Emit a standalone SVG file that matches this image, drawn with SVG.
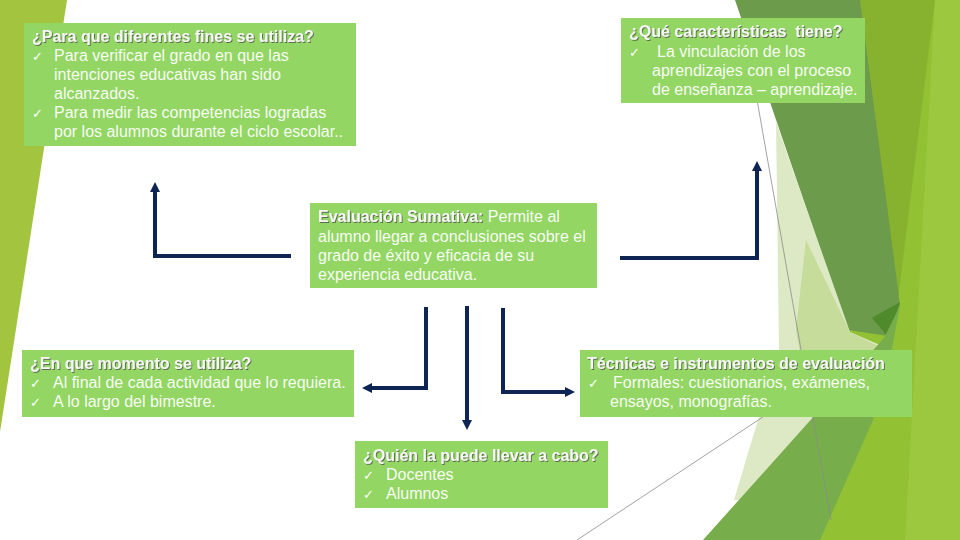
<svg xmlns="http://www.w3.org/2000/svg" width="960" height="540" viewBox="0 0 960 540">
  <defs>
    <style>
      .box { fill: #93d664; }
      .t { font-family: "Liberation Sans", Arial, sans-serif; font-size: 16px; fill: #ffffff; fill-opacity: 0.95; }
      .b { font-weight: bold; fill: #f6f6f6; fill-opacity: 1; filter: url(#sh); }
      .ck { font-family: "DejaVu Sans", sans-serif; font-size: 13px; fill: #ffffff; }
      .con { fill: none; stroke: #0e2452; stroke-width: 4; stroke-linejoin: miter; }
      .thin { stroke: #8c8c8c; stroke-width: 0.8; fill: none; }
    </style>
    <filter id="sh" x="-5%" y="-30%" width="110%" height="160%">
      <feDropShadow dx="1" dy="1" stdDeviation="0.4" flood-color="#4a4a4a" flood-opacity="0.75"/>
    </filter>
    <marker id="ah" viewBox="0 0 10 10" refX="2" refY="5" markerWidth="10" markerHeight="10" markerUnits="userSpaceOnUse" orient="auto">
      <path d="M0,0 L10,5 L0,10 z" fill="#0e2452"/>
    </marker>
  </defs>

  <rect width="960" height="540" fill="#ffffff"/>

  <g id="background">
    <polygon points="0,0 67,0 0,432" fill="#a2c43f"/>
    <polygon points="840,0 960,0 960,540 780,540" fill="#92c133"/>
    <polygon points="935,0 960,0 960,540 905,540" fill="#9cc840"/>
    <polygon points="858,0 935,0 898,300" fill="#86b22f"/>
    <polygon points="735,0 860,0 900,305 888,336 848,330" fill="#6b9b4b"/>
    <polygon points="872,318 900,302 888,337" fill="#4f8a2b"/>
    <polygon points="776,122 850,332 880,345 739,500 734,500 779,350" fill="#dde9c4"/>
    <polygon points="806,240 850,332 878,346 812,418 796,330" fill="#c6dc9b"/>
    <polygon points="703,540 884,338 900,306 886,380 873,420 820,540" fill="#77ad4b"/>
    <line class="thin" x1="750" y1="60" x2="831" y2="520"/>
    <line class="thin" x1="577" y1="540" x2="778" y2="407"/>
  </g>

  <g id="connectors">
    <path class="con" d="M291,256 L155,256 L155,190" marker-end="url(#ah)"/>
    <path class="con" d="M620,258 L757,258 L757,169" marker-end="url(#ah)"/>
    <path class="con" d="M426,307 L426,388 L370,388" marker-end="url(#ah)"/>
    <path class="con" d="M467,306 L467,422" marker-end="url(#ah)"/>
    <path class="con" d="M503,308 L503,392 L567,392" marker-end="url(#ah)"/>
  </g>

  <g id="node-fines">
    <rect class="box" x="24" y="23" width="332" height="123"/>
    <text class="t b" x="32" y="41.5">¿Para que diferentes fines se utiliza?</text>
    <text class="ck" x="32" y="60.5">✓</text>
    <text class="t" x="54" y="60.5">Para verificar el grado en que las</text>
    <text class="t" x="54" y="79.5">intenciones educativas han sido</text>
    <text class="t" x="54" y="98.5">alcanzados.</text>
    <text class="ck" x="32" y="117.5">✓</text>
    <text class="t" x="54" y="117.5">Para medir las competencias logradas</text>
    <text class="t" x="54" y="136.5">por los alumnos durante el ciclo escolar..</text>
  </g>

  <g id="node-caracteristicas">
    <rect class="box" x="621" y="18" width="244" height="85"/>
    <text class="t b" x="629" y="37" xml:space="preserve">¿Qué características  tiene?</text>
    <text class="ck" x="629" y="57">✓</text>
    <text class="t" x="657" y="57">La vinculación de los</text>
    <text class="t" x="652" y="76">aprendizajes con el proceso</text>
    <text class="t" x="652" y="95">de enseñanza – aprendizaje.</text>
  </g>

  <g id="node-evaluacion">
    <rect class="box" x="310" y="203" width="287" height="85"/>
    <text class="t" x="318" y="222"><tspan class="b">Evaluación Sumativa:</tspan> Permite al</text>
    <text class="t" x="318" y="241.5">alumno llegar a conclusiones sobre el</text>
    <text class="t" x="318" y="261">grado de éxito y eficacia de su</text>
    <text class="t" x="318" y="280">experiencia educativa.</text>
  </g>

  <g id="node-momento">
    <rect class="box" x="22" y="350" width="332" height="67"/>
    <text class="t b" x="30" y="369">¿En que momento se utiliza?</text>
    <text class="ck" x="30" y="388">✓</text>
    <text class="t" x="53" y="388">Al final de cada actividad que lo requiera.</text>
    <text class="ck" x="30" y="407">✓</text>
    <text class="t" x="53" y="407">A lo largo del bimestre.</text>
  </g>

  <g id="node-tecnicas">
    <rect class="box" x="580" y="350" width="332" height="67"/>
    <text class="t b" x="587" y="369">Técnicas e instrumentos de evaluación</text>
    <text class="ck" x="588" y="388">✓</text>
    <text class="t" x="613" y="388">Formales: cuestionarios, exámenes,</text>
    <text class="t" x="610" y="407">ensayos, monografías.</text>
  </g>

  <g id="node-quien">
    <rect class="box" x="355" y="441" width="253" height="67"/>
    <text class="t b" x="363" y="461">¿Quién la puede llevar a cabo?</text>
    <text class="ck" x="363" y="480">✓</text>
    <text class="t" x="386" y="480">Docentes</text>
    <text class="ck" x="363" y="499">✓</text>
    <text class="t" x="386" y="499">Alumnos</text>
  </g>
</svg>
